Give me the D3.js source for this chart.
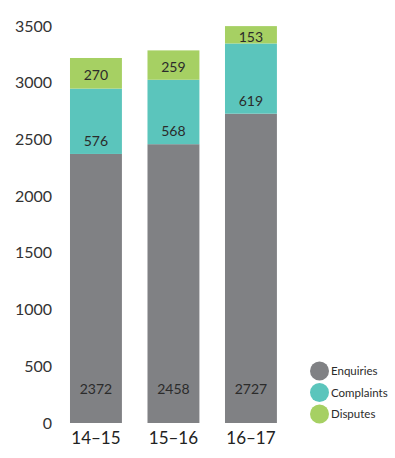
<!DOCTYPE html>
<html><head><meta charset="utf-8">
<script src="https://cdn.jsdelivr.net/npm/d3@7"></script>
<style>body{margin:0;background:#fff}svg{display:block}text{font-family:Lato,"Open Sans",sans-serif}</style>
</head><body><svg id="c" width="395" height="458"></svg>
<script>
const categories = ["14–15","15–16","16–17"];
const enquiries = [2372, 2458, 2727];
const complaints = [576, 568, 619];
const disputes = [270, 259, 153];
const seriesNames = ["Enquiries","Complaints","Disputes"];
const colors = ["#808184","#5bc5bc","#a6d063"];
const yTicks = [0,500,1000,1500,2000,2500,3000,3500];

const svg = d3.select("#c");
const x = d3.scaleBand().domain(categories).range([57.2, 289.7]).paddingInner(0.33).paddingOuter(0.165);
const y = d3.scaleLinear().domain([0,3500]).range([423, 26]);

const rows = categories.map((c,i)=>({cat:c, Enquiries:enquiries[i], Complaints:complaints[i], Disputes:disputes[i]}));
const stack = d3.stack().keys(seriesNames)(rows);

stack.forEach((s,si)=>{
  svg.append("g").selectAll("rect").data(s).join("rect")
    .attr("x", d=>x(d.data.cat)).attr("width", x.bandwidth())
    .attr("y", d=>y(d[1])).attr("height", d=>y(d[0])-y(d[1]))
    .attr("fill", colors[si]);
});

// value labels
const lab = svg.append("g").attr("fill","#2b2b2b").attr("font-size",14).attr("text-anchor","middle");
stack[0].forEach(d=>{
  lab.append("text").attr("x", x(d.data.cat)+x.bandwidth()/2).attr("y", y(0)-34).attr("dy","0.35em").text(d.data.Enquiries);
});
stack[1].forEach(d=>{
  lab.append("text").attr("x", x(d.data.cat)+x.bandwidth()/2).attr("y", y(d[0])-13).attr("dy","0.35em").text(d.data.Complaints);
});
stack[2].forEach(d=>{
  lab.append("text").attr("x", x(d.data.cat)+x.bandwidth()/2).attr("y", (y(d[0])+y(d[1]))/2+2).attr("dy","0.35em").text(d.data.Disputes);
});

// y axis
const ya = svg.append("g").attr("transform","translate(52,0)")
  .call(d3.axisLeft(y).tickValues(yTicks).tickSize(0).tickPadding(0).tickFormat(d3.format("d")));
ya.select(".domain").remove();
ya.selectAll("text").attr("font-size",16).attr("fill","#333").attr("font-family","Lato,sans-serif");

// x axis
const xa = svg.append("g").attr("transform","translate(0,"+423+")")
  .call(d3.axisBottom(x).tickSize(0).tickPadding(9));
xa.select(".domain").remove();
xa.selectAll("text").attr("font-size",17).attr("fill","#222").attr("font-family","Lato,sans-serif");

// legend
const lg = svg.append("g");
seriesNames.forEach((n,i)=>{
  const cy = 371 + i*21.5;
  lg.append("circle").attr("cx",319.5).attr("cy",cy).attr("r",9.5).attr("fill",colors[i]);
  lg.append("text").attr("x",331).attr("y",cy).attr("dy","0.35em").attr("font-size",11.5).attr("fill","#2b2b2b").text(n);
});
</script></body></html>
